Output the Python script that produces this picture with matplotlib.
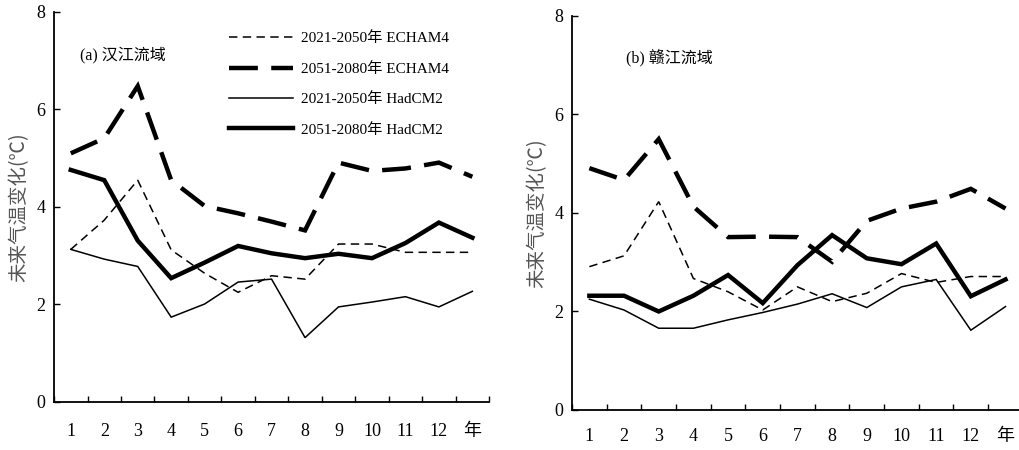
import matplotlib
matplotlib.use("Agg")
import matplotlib.pyplot as plt

plt.rcParams['font.family'] = ['Liberation Serif', 'Noto Sans CJK SC']

categories = ['1', '2', '3', '4', '5', '6', '7', '8', '9', '10', '11', '12', '年']

series_names = ['2021-2050年 ECHAM4', '2051-2080年 ECHAM4',
                '2021-2050年 HadCM2', '2051-2080年 HadCM2']

han_echam_2021 = [3.13, 3.73, 4.55, 3.12, 2.64, 2.25, 2.59, 2.52, 3.24, 3.24, 3.07, 3.07, 3.07]
han_echam_2051 = [5.10, 5.41, 6.48, 4.55, 4.02, 3.87, 3.70, 3.52, 4.91, 4.74, 4.79, 4.91, 4.62]
han_had_2021 = [3.13, 2.93, 2.78, 1.74, 2.01, 2.46, 2.52, 1.32, 1.95, 2.05, 2.16, 1.95, 2.27]
han_had_2051 = [4.76, 4.55, 3.31, 2.54, 2.86, 3.20, 3.05, 2.95, 3.04, 2.95, 3.26, 3.68, 3.37]

gan_echam_2021 = [2.91, 3.13, 4.23, 2.67, 2.40, 2.03, 2.50, 2.20, 2.37, 2.77, 2.59, 2.71, 2.71]
gan_echam_2051 = [4.91, 4.67, 5.50, 4.13, 3.51, 3.52, 3.51, 3.01, 3.84, 4.09, 4.23, 4.49, 4.09]
gan_had_2021 = [2.25, 2.03, 1.66, 1.66, 1.83, 1.98, 2.15, 2.36, 2.08, 2.50, 2.65, 1.62, 2.10]
gan_had_2051 = [2.32, 2.32, 2.00, 2.32, 2.74, 2.17, 2.94, 3.55, 3.08, 2.96, 3.38, 2.31, 2.65]

panel_titles = ['(a) 汉江流域', '(b) 赣江流域']
ylabel = '未来气温变化(℃)'
yticks = [0, 2, 4, 6, 8]

styles = [
    dict(lw=1.1, ls=(0, (5.5, 3.5))),
    dict(lw=3.2, ls=(0, (6.5, 3.0))),
    dict(lw=1.1, ls='-'),
    dict(lw=3.2, ls='-'),
]

fig = plt.figure(figsize=(10.2, 4.5), dpi=100)
ax1 = fig.add_axes([0.053, 0.1067, 0.4265, 0.8667])
ax2 = fig.add_axes([0.5608, 0.0889, 0.442, 0.8756])

data = [[han_echam_2021, han_echam_2051, han_had_2021, han_had_2051],
        [gan_echam_2021, gan_echam_2051, gan_had_2021, gan_had_2051]]

x = list(range(len(categories)))
for k, ax in enumerate([ax1, ax2]):
    for name, vals, st in zip(series_names, data[k], styles):
        ax.plot(x, vals, color='black', label=name, linestyle=st['ls'],
                linewidth=st['lw'], solid_joinstyle='miter', dash_joinstyle='miter')
    ax.set_xlim(-0.5, len(categories) - 0.5)
    ax.set_ylim(0, 8)
    ax.set_yticks(yticks)
    ax.set_yticklabels([str(v) for v in yticks], fontsize=13)
    ax.set_xticks(x)
    ax.set_xticklabels(categories, fontsize=13)
    ax.set_xticks([i - 0.5 for i in range(len(categories) + 1)], minor=True)
    ax.tick_params(axis='x', which='major', length=0, pad=15 if k == 0 else 13)
    ax.tick_params(axis='x', which='minor', length=4, direction='in', width=1)
    ax.tick_params(axis='y', which='major', length=4, direction='in', width=1, pad=6)
    for s in ['top', 'right']:
        ax.spines[s].set_visible(False)
    for s in ['left', 'bottom']:
        ax.spines[s].set_linewidth(1.3)
    ax.set_ylabel(ylabel, fontsize=14, color='#555555',
                  family=['Noto Sans CJK SC', 'DejaVu Sans'], labelpad=5)
    ax.text(0.06 if k == 0 else 0.12, 0.89 if k == 0 else 0.895, panel_titles[k],
            transform=ax.transAxes, fontsize=11.5, ha='left', va='center')

ax1.legend(loc='upper left', bbox_to_anchor=(0.37, 0.985), frameon=False, fontsize=11,
           handlelength=4.2, labelspacing=1.08, handletextpad=0.5)

fig.savefig('out.png', dpi=100)
